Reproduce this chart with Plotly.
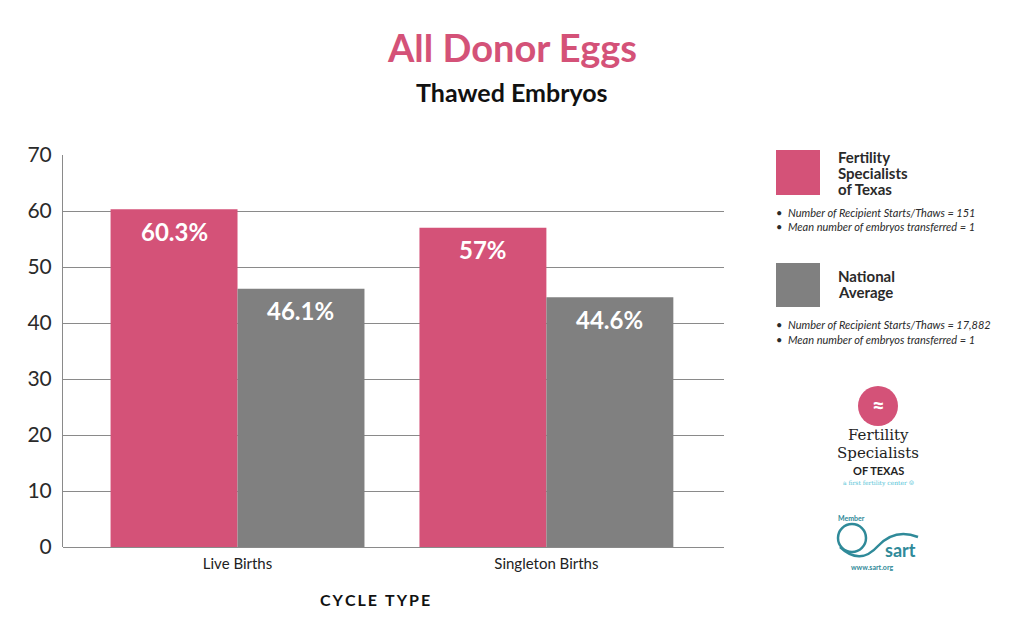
import plotly.graph_objects as go

categories = ["Live Births", "Singleton Births"]
fst_values = [60.3, 57.0]
nat_values = [46.1, 44.6]
fst_labels = ["60.3%", "57%"]
nat_labels = ["46.1%", "44.6%"]
y_ticks = [0, 10, 20, 30, 40, 50, 60, 70]

PINK = "#D45278"
GRAY = "#808080"
FONT = "Lato, 'Open Sans', sans-serif"

W, H = 1024, 632
L, R, T, B = 63, 724, 155, 547


def px(x):
    return (x - L) / (R - L)


def py(y):
    return (B - y) / (B - T)


fig = go.Figure()
fig.add_trace(go.Bar(x=categories, y=fst_values, marker_color=PINK, marker_line_width=0,
                     name="Fertility Specialists of Texas", showlegend=False))
fig.add_trace(go.Bar(x=categories, y=nat_values, marker_color=GRAY, marker_line_width=0,
                     name="National Average", showlegend=False))

ann = []


def text(x, y, t, size, color="#2a2a2a", family=FONT, xanchor="center"):
    ann.append(dict(x=px(x), y=py(y), xref="paper", yref="paper", showarrow=False,
                    xanchor=xanchor, yanchor="middle", text=t,
                    font=dict(family=family, size=size, color=color)))


# value labels inside bars near top
for i, c in enumerate(categories):
    ann.append(dict(x=i - 0.205, xref="x", y=fst_values[i], yref="y", yshift=-22,
                    xanchor="center", yanchor="middle",
                    text=f"<b>{fst_labels[i]}</b>", showarrow=False,
                    font=dict(family=FONT, size=24, color="white")))
    ann.append(dict(x=i + 0.205, xref="x", y=nat_values[i], yref="y", yshift=-22,
                    xanchor="center", yanchor="middle",
                    text=f"<b>{nat_labels[i]}</b>", showarrow=False,
                    font=dict(family=FONT, size=24, color="white")))

# titles
text(512, 47, "<b>All Donor Eggs</b>", 38, PINK)
text(512, 92, "<b>Thawed Embryos</b>", 25, "#111")
text(375, 599, "<b>C\u2009Y\u2009C\u2009L\u2009E\u2002T\u2009Y\u2009P\u2009E</b>", 16, "#111")

# legend
shapes = []
shapes.append(dict(type="rect", xref="paper", yref="paper", x0=px(776), x1=px(820),
                   y0=py(195), y1=py(150), fillcolor=PINK, line_width=0))
shapes.append(dict(type="rect", xref="paper", yref="paper", x0=px(776), x1=px(820),
                   y0=py(307), y1=py(263), fillcolor=GRAY, line_width=0))
for t, y in [("Fertility", 157), ("Specialists", 173), ("of Texas", 189),
             ("National", 276), ("Average", 292)]:
    text(836, y, f"<b>{t}</b>", 15, "#2a2a2a", xanchor="left")
for t, y in [("Number of Recipient Starts/Thaws = 151", 212),
             ("Mean number of embryos transferred = 1", 226),
             ("Number of Recipient Starts/Thaws = 17,882", 324),
             ("Mean number of embryos transferred = 1", 339)]:
    text(774, y, f"•  <i>{t}</i>", 11, "#2a2a2a", xanchor="left")

# Fertility Specialists of Texas logo (approximation)
shapes.append(dict(type="circle", xref="paper", yref="paper", x0=px(858), x1=px(898),
                   y0=py(426), y1=py(386), fillcolor=PINK, line_width=0))
text(878, 405, "<b>≈</b>", 22, "white")
text(878, 435, "Fertility", 15, "#222", "DejaVu Serif, serif")
text(878, 453, "Specialists", 15, "#222", "DejaVu Serif, serif")
text(878, 470, "<b>OF TEXAS</b>", 11, "#222")
text(878, 483, "a first fertility center ☺", 6, "#4fc3d6", "DejaVu Serif, serif")

# SART logo (approximation)
TEAL = "#2f8a99"
shapes.append(dict(type="circle", xref="paper", yref="paper", x0=px(838), x1=px(866),
                   y0=py(552), y1=py(524), fillcolor="rgba(0,0,0,0)", line=dict(color=TEAL, width=2.5)))
shapes.append(dict(type="path", xref="paper", yref="paper",
                   path=f"M {px(840)},{py(547)} Q {px(860)},{py(566)} {px(878)},{py(546)} Q {px(895)},{py(528)} {px(918)},{py(537)}",
                   line=dict(color=TEAL, width=2.5)))
text(852, 518, "<b>Member</b>", 7, TEAL)
text(900, 550, "<b>sart</b>", 18, TEAL)
text(872, 567, "<b>www.sart.org</b>", 7, TEAL)

fig.update_layout(
    width=W, height=H,
    margin=dict(l=L, r=W - R, t=T, b=H - B, pad=0),
    paper_bgcolor="white", plot_bgcolor="white",
    barmode="group", bargap=0.178, bargroupgap=0,
    font=dict(family=FONT),
    annotations=ann, shapes=shapes,
    showlegend=False,
)
fig.update_xaxes(type="category", range=[-0.565, 1.575], showgrid=False,
                 showline=False, ticks="", zeroline=False, ticklabelstandoff=6,
                 tickfont=dict(family=FONT, size=15, color="#222"))
fig.update_yaxes(range=[0, 70], tickvals=y_ticks, showgrid=True, gridcolor="#8a8a8a",
                 gridwidth=1, showline=True, linecolor="#8a8a8a", linewidth=1,
                 zeroline=True, zerolinecolor="#8a8a8a", zerolinewidth=1,
                 ticks="", ticklabelstandoff=6,
                 tickfont=dict(family=FONT, size=21, color="#2a2a2a"))

fig.write_html("out.html")
